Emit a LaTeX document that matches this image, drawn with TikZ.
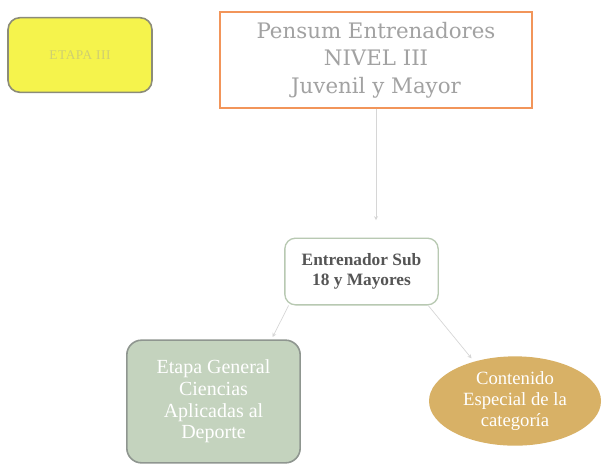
\documentclass[tikz,border=0pt]{standalone}
\usepackage{fontspec}
\setmainfont{Liberation Serif}
\newfontfamily\titlefont{DejaVu Serif}
\usepackage{xcolor}
\usepackage{tikz}
\usetikzlibrary{shapes.geometric,arrows.meta}
\definecolor{etapayellow}{HTML}{F5F34C}
\definecolor{etapaborder}{HTML}{8C8C78}
\definecolor{etapatext}{HTML}{CFCF70}
\definecolor{titleorange}{HTML}{F2955A}
\definecolor{titlegray}{HTML}{A2A2A2}
\definecolor{subborder}{HTML}{B8C9B2}
\definecolor{subtext}{HTML}{555555}
\definecolor{sagefill}{HTML}{C4D3BE}
\definecolor{sageborder}{HTML}{8F9690}
\definecolor{goldfill}{HTML}{D8B166}
\definecolor{linkgray}{HTML}{D6D6D6}

\begin{document}
\begin{tikzpicture}
            [
                x=0.75pt, y=-0.75pt,
                font=\rmfamily
            ]
            \tikzset{
                etapabox/.style = {rectangle, rounded corners=9pt, draw=etapaborder, line width=1.2pt, fill=etapayellow,
                                   minimum width=108pt, minimum height=56pt,
                                   font=\fontsize{10}{11}\selectfont\addfontfeature{LetterSpace=4}, text=etapatext},
                titlebox/.style = {rectangle, draw=titleorange, line width=1pt, align=center, minimum width=234pt, minimum height=72pt,
                                   font=\titlefont\fontsize{16}{20.5}\selectfont, text=titlegray},
                subbox/.style = {rectangle, rounded corners=8pt, draw=subborder, line width=1pt, fill=white, align=center,
                                 minimum width=115pt, minimum height=50pt, font=\bfseries\fontsize{13}{15}\selectfont, text=subtext},
                generalbox/.style = {rectangle, rounded corners=11pt, draw=sageborder, line width=1.2pt, fill=sagefill, align=center,
                                     minimum width=130pt, minimum height=92pt, font=\fontsize{15}{16.3}\selectfont, text=white},
                contentoval/.style = {ellipse, fill=goldfill, align=center, minimum width=129pt, minimum height=67pt, inner sep=0pt,
                                      font=\fontsize{14}{16}\selectfont, text=white},
                link/.style = {draw=linkgray, line width=0.5pt, -{Stealth[length=3pt,width=3pt]}}
            }
            \useasboundingbox (0,0) rectangle (605,465);
            \fill[white] (0,0) rectangle (605,465);

            \node [etapabox] (etapa) at (80,55) {ETAPA III};
            \node [titlebox] (title) at (376,60) {Pensum Entrenadores\\NIVEL III\\Juvenil y Mayor};
            \node [subbox] (sub) at (361.5,271.5) {Entrenador Sub\\18 y Mayores};
            \node [generalbox] (general) at (213.5,401.5) {Etapa General\\Ciencias\\Aplicadas al\\Deporte};
            \node [contentoval] (content) at (515,401) {Contenido\\Especial de la\\categoría};

            \draw [link, shorten >=13pt] (title.south) -- (title.south |- sub.north);
            \draw [link, shorten >=2pt] (sub.205) -- (general.47);
            \draw [link, shorten >=3pt] (sub.333) -- (content.136);
        \end{tikzpicture}
\end{document}
